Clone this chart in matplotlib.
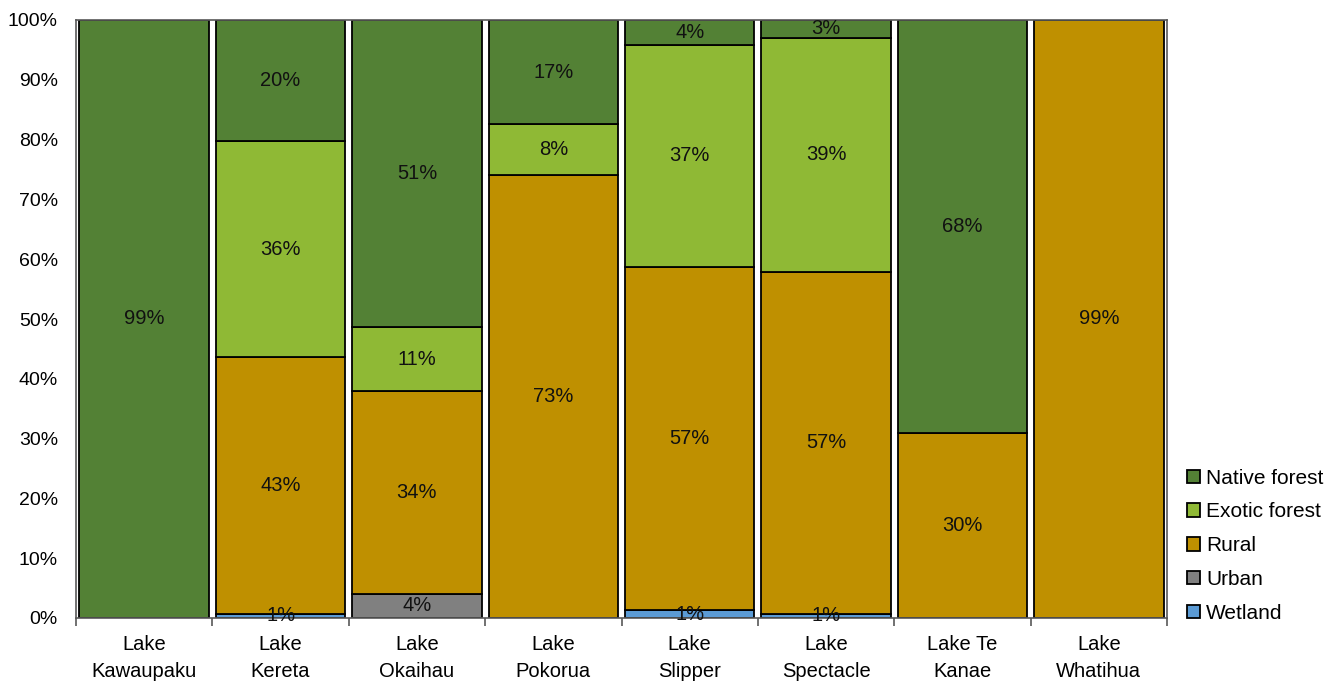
import matplotlib
matplotlib.use("Agg")
import matplotlib.pyplot as plt
import numpy as np

plt.rcParams['font.family'] = ['Liberation Sans', 'DejaVu Sans']

lakes = ["Lake\nKawaupaku", "Lake\nKereta", "Lake\nOkaihau", "Lake\nPokorua",
         "Lake\nSlipper", "Lake\nSpectacle", "Lake Te\nKanae", "Lake\nWhatihua"]

# Land cover shares (%) per catchment
wetland       = [0.0, 0.7, 0.0, 0.0, 1.3, 0.7, 0.0, 0.0]
urban         = [0.0, 0.0, 4.0, 0.0, 0.0, 0.0, 0.0, 0.0]
rural         = [0.0, 42.9, 33.8, 73.4, 57.4, 57.2, 30.4, 99.0]
exotic_forest = [0.0, 36.1, 10.6, 8.3, 37.1, 39.1, 0.0, 0.0]
native_forest = [99.0, 20.3, 51.2, 17.3, 4.1, 3.0, 68.0, 0.0]

series = [
    ("Wetland", wetland, "#5B9BD5"),
    ("Urban", urban, "#808080"),
    ("Rural", rural, "#BF9000"),
    ("Exotic forest", exotic_forest, "#8FB935"),
    ("Native forest", native_forest, "#538135"),
]

fig = plt.figure(figsize=(13.38, 6.83), dpi=100)
ax = fig.add_axes([76/1338, 1 - 618/683, (1167 - 76)/1338, (618 - 20)/683])

x = np.arange(len(lakes))
totals = np.sum([np.array(s[1]) for s in series], axis=0)
bottom = np.zeros(len(lakes))
handles = []
for name, vals, color in series:
    vals = np.array(vals, dtype=float)
    share = vals / totals
    bars = ax.bar(x, share, width=0.95, bottom=bottom, color=color,
                  edgecolor="black", linewidth=1.3, label=name)
    handles.append(bars)
    for xi, v, s, b in zip(x, vals, share, bottom):
        if v > 0:
            ax.text(xi, b + s / 2, f"{int(round(v))}%", ha="center", va="center",
                    fontsize=14.5, color="#111111")
    bottom += share

ax.set_xlim(-0.5, len(lakes) - 0.5)
ax.set_ylim(0, 1)
ax.set_yticks(np.linspace(0, 1, 11))
ax.set_yticklabels([f"{int(t)}%" for t in np.arange(0, 101, 10)], fontsize=14)
ax.tick_params(axis="y", length=0, pad=13)

ax.set_xticks(x)
ax.set_xticklabels(lakes, fontsize=14.5, linespacing=1.55)
ax.set_xticks(np.arange(-0.5, len(lakes)), minor=True)
ax.tick_params(axis="x", which="major", length=0, pad=12)
ax.tick_params(axis="x", which="minor", length=6, color="#595959", width=1.2)

for sp in ax.spines.values():
    sp.set_color("#595959")
    sp.set_linewidth(1.2)

leg = ax.legend(handles=handles[::-1], labels=[s[0] for s in series][::-1],
                loc="lower left", bbox_to_anchor=(1.011, -0.022), frameon=False,
                fontsize=15, handlelength=0.6, handleheight=0.6,
                handletextpad=0.3, labelspacing=0.71, borderaxespad=0)

fig.savefig("out.png", dpi=100)
